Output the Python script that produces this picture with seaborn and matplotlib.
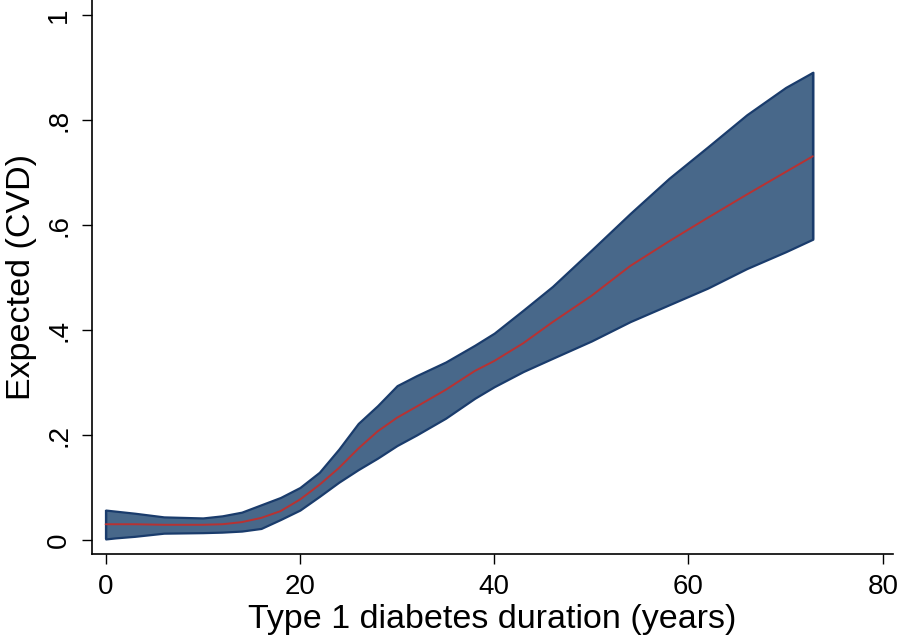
import matplotlib
matplotlib.use("Agg")
import matplotlib.pyplot as plt
import seaborn as sns
import pandas as pd

# duration (years) and expected CVD with confidence band
duration = [0, 1, 3, 6, 10, 12, 14, 16, 18, 20, 22, 24, 26, 28, 30, 32, 35,
            38, 40, 43, 46, 50, 54, 58, 62, 66, 70, 72.8]
expected = [0.030, 0.030, 0.030, 0.029, 0.029, 0.030, 0.034, 0.042, 0.055,
            0.077, 0.105, 0.137, 0.174, 0.207, 0.233, 0.254, 0.286, 0.322,
            0.341, 0.375, 0.415, 0.465, 0.522, 0.569, 0.614, 0.658, 0.701, 0.731]
upper = [0.057, 0.055, 0.051, 0.044, 0.042, 0.046, 0.053, 0.067, 0.081,
         0.100, 0.129, 0.173, 0.222, 0.256, 0.294, 0.313, 0.339, 0.371,
         0.394, 0.438, 0.483, 0.552, 0.622, 0.689, 0.749, 0.810, 0.862, 0.891]
lower = [0.002, 0.004, 0.007, 0.013, 0.014, 0.015, 0.017, 0.022, 0.039,
         0.057, 0.083, 0.110, 0.134, 0.156, 0.180, 0.200, 0.232, 0.270,
         0.292, 0.321, 0.346, 0.379, 0.416, 0.448, 0.480, 0.517, 0.549, 0.573]

x_ticks = [0, 20, 40, 60, 80]
y_ticks = [0, 0.2, 0.4, 0.6, 0.8, 1.0]
y_tick_labels = ["0", ".2", ".4", ".6", ".8", "1"]

df = pd.DataFrame({"duration": duration, "expected": expected,
                   "upper": upper, "lower": lower})

sns.set_style("ticks")
plt.rcParams["font.family"] = ["Liberation Sans", "DejaVu Sans"]
plt.rcParams["text.color"] = "black"
plt.rcParams["axes.labelcolor"] = "black"
plt.rcParams["xtick.color"] = "black"
plt.rcParams["ytick.color"] = "black"

fig = plt.figure(figsize=(8.98, 6.41), dpi=100)
ax = fig.add_axes([0.1024, 0.1357, 0.892, 0.8643])

band_edge = "#1a3c6c"
ax.fill_between(df["duration"], df["lower"], df["upper"],
                facecolor="#48688a", edgecolor=band_edge, linewidth=1.6)
# close the band at both ends like the original
ax.vlines([duration[0], duration[-1]], [lower[0], lower[-1]], [upper[0], upper[-1]],
          color=band_edge, linewidth=1.6)
sns.lineplot(data=df, x="duration", y="expected", color="#b83232",
             linewidth=1.4, ax=ax)

ax.set_xlim(-1.41, 81.05)
ax.set_ylim(-0.0267, 1.0286)
ax.set_xticks(x_ticks)
ax.set_yticks(y_ticks)
ax.set_yticklabels(y_tick_labels, rotation=90, va="center")

ax.tick_params(axis="both", direction="out", length=7.2, width=1.0,
               labelsize=20, pad=7)
for side in ["top", "right"]:
    ax.spines[side].set_visible(False)
for side in ["left", "bottom"]:
    ax.spines[side].set_linewidth(1.2)
    ax.spines[side].set_color("black")

ax.set_xlabel("Type 1 diabetes duration (years)", fontsize=24.5, labelpad=3)
ax.set_ylabel("Expected (CVD)", fontsize=24.5, labelpad=7)

fig.savefig("out.png", dpi=100)
